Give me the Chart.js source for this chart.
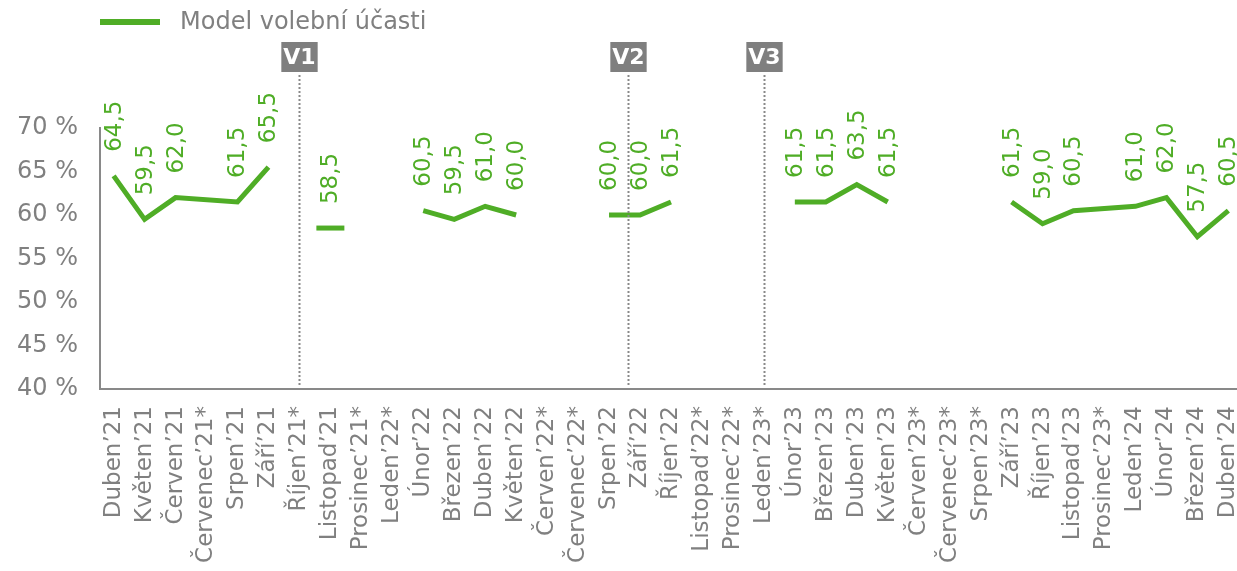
<!DOCTYPE html>
<html>
<head>
<meta charset="utf-8">
<script src="https://cdn.jsdelivr.net/npm/chart.js@4/dist/chart.umd.min.js"></script>
<style>
  html, body { margin: 0; padding: 0; background: #ffffff; }
  #wrap { width: 1237px; height: 571px; }
</style>
</head>
<body>
<div id="wrap"><canvas id="c" width="1237" height="571"></canvas></div>
<script>
// ---- data ----
const categories = [
  "Duben’21", "Květen’21", "Červen’21", "Červenec’21*", "Srpen’21", "Září’21",
  "Říjen’21*", "Listopad’21", "Prosinec’21*", "Leden’22*", "Únor’22", "Březen’22",
  "Duben’22", "Květen’22", "Červen’22*", "Červenec’22*", "Srpen’22", "Září’22",
  "Říjen’22", "Listopad’22*", "Prosinec’22*", "Leden’23*", "Únor’23", "Březen’23",
  "Duben’23", "Květen’23", "Červen’23*", "Červenec’23*", "Srpen’23*", "Září’23",
  "Říjen’23", "Listopad’23", "Prosinec’23*", "Leden’24", "Únor’24", "Březen’24", "Duben’24"
];
const turnout = [
  64.5, 59.5, 62.0, null, 61.5, 65.5,
  null, 58.5, null, null, 60.5, 59.5,
  61.0, 60.0, null, null, 60.0, 60.0,
  61.5, null, null, null, 61.5, 61.5,
  63.5, 61.5, null, null, null, 61.5,
  59.0, 60.5, null, 61.0, 62.0, 57.5, 60.5
];
// months without a value through which the line is still drawn
const bridgedMonths = ["Červenec’21*", "Prosinec’23*"];
// election markers: label and position on the month axis (index)
const markerLabels = ["V1", "V2", "V3"];
const markerPositions = [6, 16.6, 21];
const seriesName = "Model volební účasti";
const yTicks = [40, 45, 50, 55, 60, 65, 70];

// ---- style ----
const GREEN = "#4fad26";
const GRAY = "#808080";
const AXIS = "#898989";
const FONT = "'DejaVu Sans', Verdana, sans-serif";
Chart.defaults.font.family = FONT;

function linked(a, b) {
  if (b - a === 1) return true;
  for (let k = a + 1; k < b; k++) {
    if (!bridgedMonths.includes(categories[k])) return false;
  }
  return true;
}
function prevValued(i) { let p = i; while (p >= 0 && turnout[p] == null) p--; return p; }
function isolated(i) {
  if (turnout[i] == null) return false;
  let p = i - 1; while (p >= 0 && turnout[p] == null) p--;
  let n = i + 1; while (n < turnout.length && turnout[n] == null) n++;
  const hasPrev = p >= 0 && linked(p, i);
  const hasNext = n < turnout.length && linked(i, n);
  return !hasPrev && !hasNext;
}

const points = categories.map((c, i) => ({ x: i, y: turnout[i] }));

const overlay = {
  id: 'overlay',
  afterDatasetsDraw(chart) {
    const ctx = chart.ctx;
    const xs = chart.scales.x;
    const area = chart.chartArea;
    // data labels
    const meta = chart.getDatasetMeta(0);
    ctx.save();
    ctx.fillStyle = GREEN;
    ctx.font = "23px " + FONT;
    ctx.textAlign = 'left';
    ctx.textBaseline = 'middle';
    meta.data.forEach((pt, i) => {
      const v = turnout[i];
      if (v == null) return;
      ctx.save();
      ctx.translate(pt.x, pt.y - 24);
      ctx.rotate(-Math.PI / 2);
      ctx.fillText(v.toFixed(1).replace('.', ','), 0, 1);
      ctx.restore();
    });
    ctx.restore();

    // election markers
    ctx.save();
    markerLabels.forEach((lab, k) => {
      const x = Math.round(xs.getPixelForValue(markerPositions[k])) + 0.5;
      ctx.strokeStyle = AXIS;
      ctx.lineWidth = 2;
      ctx.setLineDash([2, 2]);
      ctx.beginPath();
      ctx.moveTo(x, 75);
      ctx.lineTo(x, area.bottom - 3);
      ctx.stroke();
      ctx.setLineDash([]);
      ctx.font = "bold 22px " + FONT;
      const tw = ctx.measureText(lab).width;
      const w = tw + 4, h = 30;
      ctx.fillStyle = "#7f7f7f";
      ctx.fillRect(x - w / 2, 42, w, h);
      ctx.fillStyle = "#ffffff";
      ctx.textAlign = 'center';
      ctx.textBaseline = 'middle';
      ctx.fillText(lab, x, 58);
    });
    ctx.restore();

    // legend
    ctx.save();
    ctx.strokeStyle = GREEN;
    ctx.lineWidth = 6;
    ctx.beginPath();
    ctx.moveTo(100, 22);
    ctx.lineTo(160, 22);
    ctx.stroke();
    ctx.fillStyle = GRAY;
    ctx.font = "24px " + FONT;
    ctx.textAlign = 'left';
    ctx.textBaseline = 'middle';
    ctx.fillText(chart.data.datasets[0].label, 180, 23);
    ctx.restore();
  }
};

new Chart(document.getElementById('c'), {
  type: 'line',
  data: {
    datasets: [{
      label: seriesName,
      data: points,
      borderColor: GREEN,
      backgroundColor: GREEN,
      borderWidth: 5,
      spanGaps: true,
      tension: 0,
      pointStyle: 'line',
      pointRadius: ctx => isolated(ctx.dataIndex) ? 14 : 0,
      pointHoverRadius: ctx => isolated(ctx.dataIndex) ? 14 : 0,
      pointBorderWidth: 5,
      pointBorderColor: GREEN,
      segment: {
        borderColor: ctx => linked(prevValued(ctx.p0DataIndex), ctx.p1DataIndex) ? undefined : 'rgba(0,0,0,0)'
      }
    }]
  },
  options: {
    responsive: false,
    animation: false,
    devicePixelRatio: 1,
    layout: { padding: { top: 128, left: 0, right: 0, bottom: 0 } },
    plugins: { legend: { display: false }, tooltip: { enabled: false } },
    scales: {
      x: {
        type: 'linear',
        min: -0.44,
        max: 36.28,
        grid: { display: false, drawTicks: false },
        border: { display: true, color: AXIS, width: 2 },
        ticks: {
          stepSize: 1,
          autoSkip: false,
          includeBounds: false,
          minRotation: 90,
          maxRotation: 90,
          padding: 17,
          color: GRAY,
          font: { size: 23, family: FONT },
          callback: v => categories[v] !== undefined ? categories[v] : ''
        },
        afterFit: s => { s.height = 182; s.paddingLeft = 0; s.paddingRight = 0; }
      },
      y: {
        min: 40,
        max: 70,
        afterBuildTicks: s => { s.ticks = yTicks.map(v => ({ value: v })); },
        grid: { display: false, drawTicks: false },
        border: { display: true, color: AXIS, width: 2 },
        ticks: {
          padding: 22,
          color: GRAY,
          font: { size: 24, family: FONT },
          callback: v => v + ' %'
        },
        afterFit: s => { s.width = 100; }
      }
    }
  },
  plugins: [overlay]
});
</script>
</body>
</html>
